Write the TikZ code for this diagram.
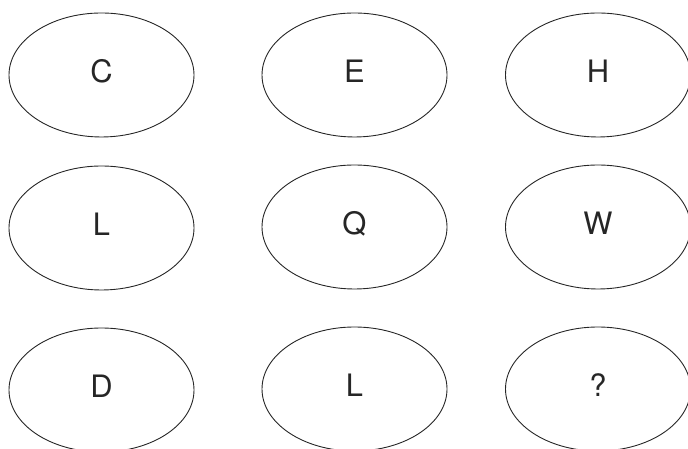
\documentclass[tikz,border=0pt]{standalone}
\usepackage{fontspec}
\setmainfont{TeX Gyre Heros}
\usetikzlibrary{shapes.geometric}
\tikzset{
  oval/.style={ellipse, draw=black!85, line width=0.9bp, minimum width=185bp, minimum height=124bp, inner sep=0pt},
  letter/.style={inner sep=0pt, font=\fontsize{31}{36}\selectfont, text=black!85}
}
\begin{document}
\begin{tikzpicture}[x=1bp,y=1bp]
\useasboundingbox (0,0) rectangle (688,449);
\clip (0,0) rectangle (688,449);
% rows (y measured from bottom): 449-75=374, 449-227=222, 449-389=60
\node[oval] (o11) at (101.5,374) {};
\node[oval] (o12) at (354.5,374) {};
\node[oval] (o13) at (598,374) {};
\node[oval] (o21) at (101.5,221) {};
\node[oval] (o22) at (354.5,222) {};
\node[oval] (o23) at (598,222) {};
\node[oval] (o31) at (101.5,59) {};
\node[oval] (o32) at (354.5,60) {};
\node[oval] (o33) at (598,60) {};
\node[letter] (t11) at ([yshift=3.5bp]o11.center) {C};
\node[letter] (t12) at ([yshift=3.5bp]o12.center) {E};
\node[letter] (t13) at ([yshift=3.5bp]o13.center) {H};
\node[letter] (t21) at ([yshift=3.5bp]o21.center) {L};
\node[letter] (t22) at ([yshift=3.5bp]o22.center) {Q};
\node[letter] (t23) at ([yshift=3.5bp]o23.center) {W};
\node[letter] (t31) at ([yshift=3.5bp]o31.center) {D};
\node[letter] (t32) at ([yshift=3.5bp]o32.center) {L};
\node[letter] (t33) at ([yshift=3.5bp]o33.center) {?};
\end{tikzpicture}
\end{document}
